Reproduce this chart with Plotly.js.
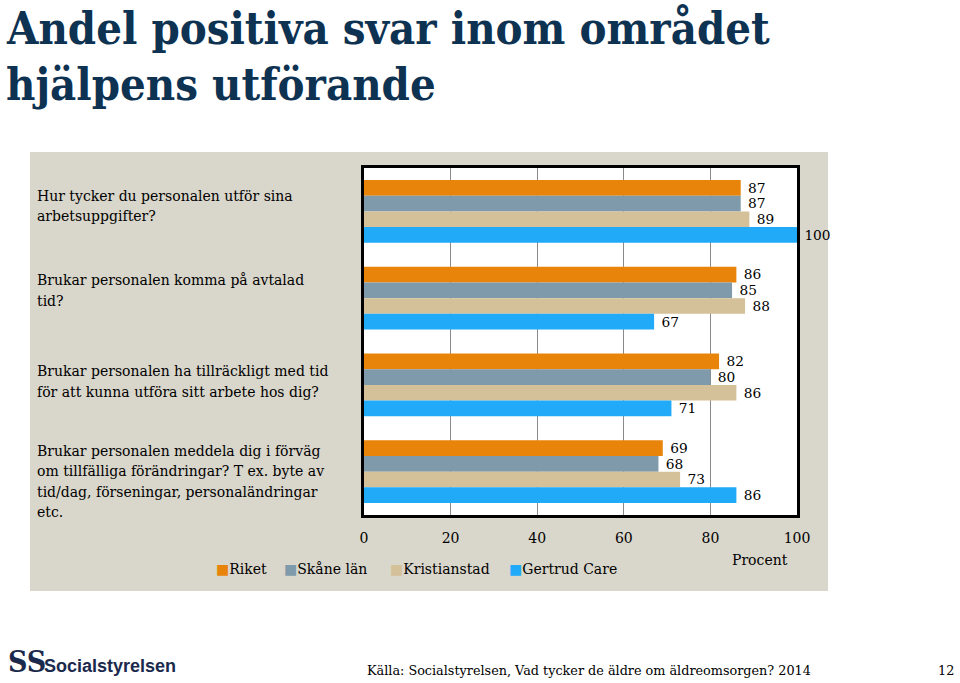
<!DOCTYPE html>
<html>
<head>
<meta charset="utf-8">
<script src="https://cdn.plot.ly/plotly-3.0.1.min.js"></script>
<style>html,body{margin:0;padding:0;background:#fff;}#chart{width:960px;height:683px;}</style>
</head>
<body>
<div id="chart"></div>
<script>
const categories = [
  "Hur tycker du personalen utför sina<br>arbetsuppgifter?",
  "Brukar personalen komma på avtalad<br>tid?",
  "Brukar personalen ha tillräckligt med tid<br>för att kunna utföra sitt arbete hos dig?",
  "Brukar personalen meddela dig i förväg<br>om tillfälliga förändringar? T ex. byte av<br>tid/dag, förseningar, personaländringar<br>etc."
];
const seriesNames = ["Riket", "Skåne län", "Kristianstad", "Gertrud Care"];
const riket = [87, 86, 82, 69];
const skane = [87, 85, 80, 68];
const kristianstad = [89, 88, 86, 73];
const gertrud = [100, 67, 71, 86];
const tickValues = [0, 20, 40, 60, 80, 100];
const titleLines = ["Andel positiva svar inom området", "hjälpens utförande"];
const axisTitle = "Procent";
const sourceText = "Källa: Socialstyrelsen, Vad tycker de äldre om äldreomsorgen? 2014";
const pageNumber = "12";

const colors = ["#e8840a", "#7f9bab", "#d5c199", "#20aaf7"];
const serif = "DejaVu Serif, serif";
const seriesValues = [riket, skane, kristianstad, gertrud];
const catIdx = categories.map((c, i) => i);

const traces = seriesValues.map((vals, k) => ({
  type: "bar",
  orientation: "h",
  name: seriesNames[k],
  x: vals,
  y: catIdx,
  marker: {color: colors[k]},
  texttemplate: "\u00a0%{x}",
  textposition: "outside",
  cliponaxis: false,
  textfont: {family: serif, size: 14, color: "#000"},
  showlegend: false,
  hoverinfo: "x+name"
}));

// plot area pixel geometry
const L = 364, R = 797, T = 168, B = 515;
const W = R - L, H = B - T;
const px = x => (x - L) / W;
const py = y => (B - y) / H;
const catPx = H / 4;

const annotations = [];
// category labels, one annotation per line
const labelCenterOffsetPx = [-5.5, -7.5, -3.5, 10];
const lineGap = 20.3;
categories.forEach((c, i) => {
  const lines = c.split("<br>");
  lines.forEach((ln, j) => {
    const off = labelCenterOffsetPx[i] + (j - (lines.length - 1) / 2) * lineGap;
    annotations.push({
      xref: "paper", yref: "y", x: px(35), y: i + off / catPx,
      xanchor: "left", yanchor: "middle", align: "left",
      text: ln, showarrow: false,
      font: {family: serif, size: 14, color: "#000"}
    });
  });
});
// title
const titleTop = [0, 56];
titleLines.forEach((t, j) => annotations.push({
  xref: "paper", yref: "paper", x: px(4), y: py(titleTop[j]),
  xanchor: "left", yanchor: "top", text: t, showarrow: false,
  font: {family: "DejaVu Serif Condensed, DejaVu Serif, serif", size: 45, color: "#0e3251", weight: "bold"}
}));
annotations.push({
  xref: "paper", yref: "paper", x: px(760), y: py(560),
  xanchor: "center", yanchor: "middle", text: axisTitle, showarrow: false,
  font: {family: serif, size: 14, color: "#000"}
});
// custom legend from series names
const legendX = [214, 282, 388, 507];
seriesNames.forEach((n, k) => annotations.push({
  xref: "paper", yref: "paper", x: px(legendX[k]), y: py(569),
  xanchor: "left", yanchor: "middle", showarrow: false,
  text: `<span style="color:${colors[k]}">■</span>${n}`,
  font: {family: serif, size: 14, color: "#000"}
}));
annotations.push({
  xref: "paper", yref: "paper", x: px(365), y: py(670),
  xanchor: "left", yanchor: "middle", text: sourceText, showarrow: false,
  font: {family: serif, size: 12.8, color: "#000"}
});
annotations.push({
  xref: "paper", yref: "paper", x: px(946), y: py(670),
  xanchor: "center", yanchor: "middle", text: pageNumber, showarrow: false,
  font: {family: serif, size: 12.8, color: "#000"}
});
// logo
annotations.push({
  xref: "paper", yref: "paper", x: px(6), y: py(661),
  xanchor: "left", yanchor: "middle", text: "SS", showarrow: false,
  font: {family: "DejaVu Serif Condensed, DejaVu Serif, serif", size: 30, color: "#1b2a4c", weight: "bold"}
});
annotations.push({
  xref: "paper", yref: "paper", x: px(42), y: py(666),
  xanchor: "left", yanchor: "middle", text: "Socialstyrelsen", showarrow: false,
  font: {family: "Liberation Sans, sans-serif", size: 18, color: "#1b2a4c", weight: "bold"}
});

const shapes = [
  {type: "rect", xref: "paper", yref: "paper", layer: "below",
   x0: px(30), x1: px(828), y0: py(591), y1: py(152),
   fillcolor: "#d9d6cb", line: {width: 0}},
  {type: "rect", xref: "paper", yref: "paper", layer: "below",
   x0: 0, x1: 1, y0: 0, y1: 1, fillcolor: "#ffffff", line: {width: 0}}
];

const layout = {
  width: 960, height: 683,
  paper_bgcolor: "#ffffff", plot_bgcolor: "rgba(0,0,0,0)",
  margin: {l: L, r: 960 - R, t: T, b: 683 - B, pad: 0},
  barmode: "group", bargap: 0.276, bargroupgap: 0,
  showlegend: false,
  xaxis: {
    range: [0, 100], tickvals: tickValues, ticktext: tickValues.map(String),
    showgrid: true, gridcolor: "#8a8a8a", gridwidth: 1, zeroline: false,
    showline: true, mirror: true, linecolor: "#000", linewidth: 3,
    ticks: "", ticklabelstandoff: 8, fixedrange: true,
    tickfont: {family: serif, size: 14, color: "#000"}
  },
  yaxis: {
    range: [3.5, -0.5], showticklabels: false, showgrid: false, zeroline: false,
    showline: true, mirror: true, linecolor: "#000", linewidth: 3, ticks: "", fixedrange: true
  },
  annotations: annotations,
  shapes: shapes
};

Plotly.newPlot("chart", traces, layout, {displayModeBar: false, staticPlot: true});
</script>
</body>
</html>
